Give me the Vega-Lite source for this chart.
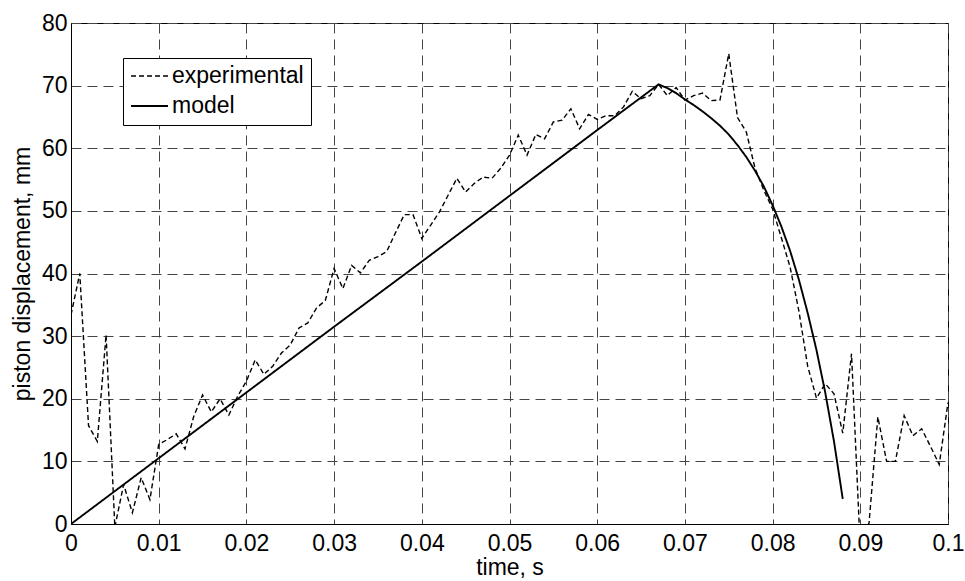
{
  "$schema": "https://vega.github.io/schema/vega-lite/v6.json",
  "autosize": {"type": "none"},
  "width": 877,
  "height": 501,
  "padding": {"left": 71, "top": 23, "right": 17, "bottom": 57},
  "background": "white",
  "config": {
    "font": "Liberation Sans",
    "view": {"stroke": "black", "strokeWidth": 1},
    "axis": {
      "labelFont": "Liberation Sans",
      "titleFont": "Liberation Sans",
      "labelFontSize": 23,
      "titleFontSize": 23,
      "titleFontWeight": "normal",
      "labelColor": "black",
      "titleColor": "black",
      "domainColor": "black",
      "grid": true,
      "gridColor": "#444",
      "gridDash": [10, 6],
      "gridWidth": 1,
      "gridOpacity": 1,
      "ticks": false
    },
    "legend": {
      "labelFont": "Liberation Sans",
      "labelFontSize": 23,
      "labelColor": "black"
    }
  },
  "data": {
    "values": [
      {"t": 0.000, "v": 33.4, "series": "experimental"},
      {"t": 0.001, "v": 40.0, "series": "experimental"},
      {"t": 0.002, "v": 15.7, "series": "experimental"},
      {"t": 0.003, "v": 13.2, "series": "experimental"},
      {"t": 0.004, "v": 30.2, "series": "experimental"},
      {"t": 0.005, "v": -0.5, "series": "experimental"},
      {"t": 0.006, "v": 6.3, "series": "experimental"},
      {"t": 0.007, "v": 1.8, "series": "experimental"},
      {"t": 0.008, "v": 7.4, "series": "experimental"},
      {"t": 0.009, "v": 3.9, "series": "experimental"},
      {"t": 0.010, "v": 12.7, "series": "experimental"},
      {"t": 0.011, "v": 13.5, "series": "experimental"},
      {"t": 0.012, "v": 14.4, "series": "experimental"},
      {"t": 0.013, "v": 12.0, "series": "experimental"},
      {"t": 0.014, "v": 17.2, "series": "experimental"},
      {"t": 0.015, "v": 20.6, "series": "experimental"},
      {"t": 0.016, "v": 17.9, "series": "experimental"},
      {"t": 0.017, "v": 20.0, "series": "experimental"},
      {"t": 0.018, "v": 17.4, "series": "experimental"},
      {"t": 0.019, "v": 20.4, "series": "experimental"},
      {"t": 0.020, "v": 22.8, "series": "experimental"},
      {"t": 0.021, "v": 26.2, "series": "experimental"},
      {"t": 0.022, "v": 23.9, "series": "experimental"},
      {"t": 0.023, "v": 25.2, "series": "experimental"},
      {"t": 0.024, "v": 27.3, "series": "experimental"},
      {"t": 0.025, "v": 28.6, "series": "experimental"},
      {"t": 0.026, "v": 31.3, "series": "experimental"},
      {"t": 0.027, "v": 32.1, "series": "experimental"},
      {"t": 0.028, "v": 34.5, "series": "experimental"},
      {"t": 0.029, "v": 35.7, "series": "experimental"},
      {"t": 0.030, "v": 40.8, "series": "experimental"},
      {"t": 0.031, "v": 37.6, "series": "experimental"},
      {"t": 0.032, "v": 41.3, "series": "experimental"},
      {"t": 0.033, "v": 40.1, "series": "experimental"},
      {"t": 0.034, "v": 42.1, "series": "experimental"},
      {"t": 0.035, "v": 42.7, "series": "experimental"},
      {"t": 0.036, "v": 43.5, "series": "experimental"},
      {"t": 0.037, "v": 46.5, "series": "experimental"},
      {"t": 0.038, "v": 49.4, "series": "experimental"},
      {"t": 0.039, "v": 49.4, "series": "experimental"},
      {"t": 0.040, "v": 45.6, "series": "experimental"},
      {"t": 0.041, "v": 47.7, "series": "experimental"},
      {"t": 0.042, "v": 49.8, "series": "experimental"},
      {"t": 0.043, "v": 52.5, "series": "experimental"},
      {"t": 0.044, "v": 55.2, "series": "experimental"},
      {"t": 0.045, "v": 53.0, "series": "experimental"},
      {"t": 0.046, "v": 54.4, "series": "experimental"},
      {"t": 0.047, "v": 55.4, "series": "experimental"},
      {"t": 0.048, "v": 55.2, "series": "experimental"},
      {"t": 0.049, "v": 56.8, "series": "experimental"},
      {"t": 0.050, "v": 58.9, "series": "experimental"},
      {"t": 0.051, "v": 62.1, "series": "experimental"},
      {"t": 0.052, "v": 58.9, "series": "experimental"},
      {"t": 0.053, "v": 62.2, "series": "experimental"},
      {"t": 0.054, "v": 61.5, "series": "experimental"},
      {"t": 0.055, "v": 64.2, "series": "experimental"},
      {"t": 0.056, "v": 64.5, "series": "experimental"},
      {"t": 0.057, "v": 66.3, "series": "experimental"},
      {"t": 0.058, "v": 63.1, "series": "experimental"},
      {"t": 0.059, "v": 65.4, "series": "experimental"},
      {"t": 0.060, "v": 64.6, "series": "experimental"},
      {"t": 0.061, "v": 65.2, "series": "experimental"},
      {"t": 0.062, "v": 65.2, "series": "experimental"},
      {"t": 0.063, "v": 66.6, "series": "experimental"},
      {"t": 0.064, "v": 69.1, "series": "experimental"},
      {"t": 0.065, "v": 67.9, "series": "experimental"},
      {"t": 0.066, "v": 68.4, "series": "experimental"},
      {"t": 0.067, "v": 70.2, "series": "experimental"},
      {"t": 0.068, "v": 68.4, "series": "experimental"},
      {"t": 0.069, "v": 69.7, "series": "experimental"},
      {"t": 0.070, "v": 67.7, "series": "experimental"},
      {"t": 0.071, "v": 68.4, "series": "experimental"},
      {"t": 0.072, "v": 68.8, "series": "experimental"},
      {"t": 0.073, "v": 67.6, "series": "experimental"},
      {"t": 0.074, "v": 67.7, "series": "experimental"},
      {"t": 0.075, "v": 75.1, "series": "experimental"},
      {"t": 0.076, "v": 64.9, "series": "experimental"},
      {"t": 0.077, "v": 62.6, "series": "experimental"},
      {"t": 0.078, "v": 56.8, "series": "experimental"},
      {"t": 0.079, "v": 53.3, "series": "experimental"},
      {"t": 0.080, "v": 50.3, "series": "experimental"},
      {"t": 0.081, "v": 45.7, "series": "experimental"},
      {"t": 0.082, "v": 41.0, "series": "experimental"},
      {"t": 0.083, "v": 34.0, "series": "experimental"},
      {"t": 0.084, "v": 25.2, "series": "experimental"},
      {"t": 0.085, "v": 20.1, "series": "experimental"},
      {"t": 0.086, "v": 22.4, "series": "experimental"},
      {"t": 0.087, "v": 20.8, "series": "experimental"},
      {"t": 0.088, "v": 14.5, "series": "experimental"},
      {"t": 0.089, "v": 27.2, "series": "experimental"},
      {"t": 0.090, "v": -4.0, "series": "experimental"},
      {"t": 0.091, "v": 0.2, "series": "experimental"},
      {"t": 0.092, "v": 17.1, "series": "experimental"},
      {"t": 0.093, "v": 10.0, "series": "experimental"},
      {"t": 0.094, "v": 10.0, "series": "experimental"},
      {"t": 0.095, "v": 17.3, "series": "experimental"},
      {"t": 0.096, "v": 14.1, "series": "experimental"},
      {"t": 0.097, "v": 15.2, "series": "experimental"},
      {"t": 0.098, "v": 12.4, "series": "experimental"},
      {"t": 0.099, "v": 9.5, "series": "experimental"},
      {"t": 0.100, "v": 19.4, "series": "experimental"},
      {"t": 0.000, "v": 0.0, "series": "model"},
      {"t": 0.010, "v": 10.5, "series": "model"},
      {"t": 0.020, "v": 21.0, "series": "model"},
      {"t": 0.030, "v": 31.5, "series": "model"},
      {"t": 0.040, "v": 41.9, "series": "model"},
      {"t": 0.050, "v": 52.4, "series": "model"},
      {"t": 0.060, "v": 62.9, "series": "model"},
      {"t": 0.067, "v": 70.2, "series": "model"},
      {"t": 0.068, "v": 69.6, "series": "model"},
      {"t": 0.069, "v": 68.8, "series": "model"},
      {"t": 0.070, "v": 67.8, "series": "model"},
      {"t": 0.071, "v": 66.9, "series": "model"},
      {"t": 0.072, "v": 65.9, "series": "model"},
      {"t": 0.073, "v": 64.8, "series": "model"},
      {"t": 0.074, "v": 63.6, "series": "model"},
      {"t": 0.075, "v": 62.2, "series": "model"},
      {"t": 0.076, "v": 60.5, "series": "model"},
      {"t": 0.077, "v": 58.6, "series": "model"},
      {"t": 0.078, "v": 56.4, "series": "model"},
      {"t": 0.079, "v": 53.9, "series": "model"},
      {"t": 0.080, "v": 50.9, "series": "model"},
      {"t": 0.081, "v": 47.5, "series": "model"},
      {"t": 0.082, "v": 43.6, "series": "model"},
      {"t": 0.083, "v": 39.0, "series": "model"},
      {"t": 0.084, "v": 33.7, "series": "model"},
      {"t": 0.085, "v": 27.8, "series": "model"},
      {"t": 0.086, "v": 21.0, "series": "model"},
      {"t": 0.087, "v": 13.2, "series": "model"},
      {"t": 0.088, "v": 4.0, "series": "model"}
    ]
  },
  "encoding": {
    "x": {
      "field": "t",
      "type": "quantitative",
      "scale": {"domain": [0, 0.1], "nice": false, "zero": false},
      "axis": {
        "title": "time, s",
        "values": [0, 0.01, 0.02, 0.03, 0.04, 0.05, 0.06, 0.07, 0.08, 0.09, 0.1],
        "format": "~g",
        "labelPadding": 8,
        "titlePadding": 1,
        "labelFlush": false
      }
    },
    "y": {
      "field": "v",
      "type": "quantitative",
      "scale": {"domain": [0, 80], "nice": false},
      "axis": {
        "title": "piston displacement, mm",
        "values": [0, 10, 20, 30, 40, 50, 60, 70, 80],
        "labelPadding": 4,
        "titlePadding": 7,
        "labelFlush": false
      }
    },
    "color": {
      "field": "series",
      "type": "nominal",
      "scale": {"domain": ["experimental", "model"], "range": ["black", "black"]},
      "legend": {
        "title": null,
        "orient": "none",
        "legendX": 52,
        "legendY": 35,
        "symbolType": "stroke",
        "symbolSize": 1369,
        "symbolStrokeWidth": 1.5,
        "clipHeight": 22,
        "padding": 7,
        "labelOffset": 3,
        "rowPadding": 7,
        "strokeColor": "black",
        "fillColor": "white",
        "cornerRadius": 0
      }
    },
    "strokeDash": {
      "field": "series",
      "type": "nominal",
      "scale": {"domain": ["experimental", "model"], "range": [[5, 3], [1, 0]]},
      "legend": {
        "title": null,
        "orient": "none",
        "legendX": 52,
        "legendY": 35,
        "symbolType": "stroke",
        "symbolSize": 1369,
        "symbolStrokeWidth": 1.5,
        "clipHeight": 22,
        "padding": 7,
        "labelOffset": 3,
        "rowPadding": 7,
        "strokeColor": "black",
        "fillColor": "white",
        "cornerRadius": 0
      }
    },
    "strokeWidth": {
      "field": "series",
      "type": "nominal",
      "scale": {"domain": ["experimental", "model"], "range": [1.4, 1.9]},
      "legend": null
    }
  },
  "layer": [
    {
      "transform": [{"filter": "datum.series === 'experimental'"}],
      "mark": {"type": "line", "clip": true}
    },
    {
      "transform": [{"filter": "datum.series === 'model'"}],
      "mark": {"type": "line", "clip": true}
    }
  ]
}
